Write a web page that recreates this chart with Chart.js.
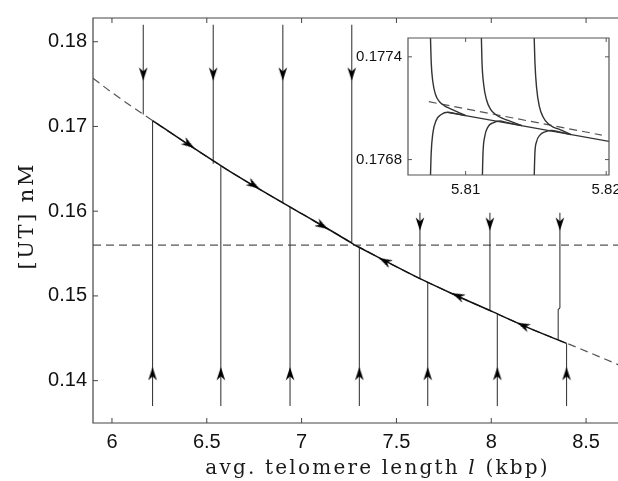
<!DOCTYPE html>
<html><head><meta charset="utf-8">
<script src="https://cdn.jsdelivr.net/npm/chart.js@4.4.1/dist/chart.umd.min.js"></script>
<style>
html,body{margin:0;padding:0;overflow:hidden;background:#fff;width:618px;height:481px;}
#wrap{position:relative;width:618px;height:481px;overflow:hidden;}
#main{position:absolute;left:0;top:0;}
#inset{position:absolute;left:340px;top:23px;}
</style></head><body>
<div id="wrap">
<canvas id="main" width="640" height="481"></canvas>
<canvas id="inset" width="300" height="185"></canvas>
</div>
<script>
// ---------- main panel data ----------
const xTicks = [6, 6.5, 7, 7.5, 8, 8.5];
const xTickLabels = ['6', '6.5', '7', '7.5', '8', '8.5'];
const yTicks = [0.14, 0.15, 0.16, 0.17, 0.18];
const yTickLabels = ['0.14', '0.15', '0.16', '0.17', '0.18'];
const xRange = [5.9, 8.7];
const yRange = [0.135, 0.1828];

// nullcline (dashed curve)
const nullX = [5.9, 6.0, 6.2, 6.4, 6.6, 6.8, 7.0, 7.2, 7.4, 7.6, 7.8, 8.0, 8.2, 8.4, 8.7];
const nullY = [0.1757, 0.1740, 0.1709, 0.1679, 0.1650, 0.1623, 0.1597, 0.1571, 0.1546, 0.1523, 0.1502, 0.1482, 0.1462, 0.1444, 0.1416];
// horizontal dashed level
const levelY = 0.156;

// solid trajectories along the nullcline
const solidAX = [6.214, 6.4, 6.6, 6.8, 7.0, 7.2, 7.28];
const solidAY = [0.1707, 0.1679, 0.1650, 0.1623, 0.1597, 0.1571, 0.1560];
const solidBX = [7.28, 7.4, 7.6, 7.8, 8.0, 8.2, 8.397];
const solidBY = [0.1560, 0.1546, 0.1523, 0.1502, 0.1482, 0.1462, 0.1444];

// trajectories coming down from above
const downX = [6.165, 6.534, 6.901, 7.2645, 7.624, 7.993, 8.362];
const downTop = [0.182, 0.182, 0.182, 0.182, 0.1598, 0.1598, 0.1598];
const downEnd = [0.1714, 0.1656, 0.1610, 0.1563, 0.1520, 0.1483, 0.14857];
const kinkX = [8.362, 8.353, 8.353];
const kinkY = [0.14857, 0.1484, 0.1449];
const downArrowY = [0.1762, 0.1762, 0.1762, 0.1762, 0.1585, 0.1585, 0.1585];

// trajectories coming up from below
const upX = [6.214, 6.574, 6.939, 7.3045, 7.665, 8.032, 8.397];
const upBottom = [0.137, 0.137, 0.137, 0.137, 0.137, 0.137, 0.137];
const upEnd = [0.1707, 0.1653, 0.1605, 0.1557, 0.1516, 0.1478, 0.1444];
const upArrowY = [0.1408, 0.1408, 0.1408, 0.1408, 0.1408, 0.1408, 0.1408];

// arrows along the curve
const curveArrowX = [6.404, 6.746, 7.108, 7.44, 7.825, 8.169];
const curveArrowY = [0.1679, 0.1631, 0.1583, 0.1541, 0.1500, 0.1465];
const curveArrowAngle = [123.7, 121.4, 120.4, 297.4, 294.3, 294.3];

// ---------- inset data ----------
const inXTicks = [5.81, 5.82];
const inXTickLabels = ['5.81', '5.82'];
const inYTicks = [0.1768, 0.1774];
const inYTickLabels = ['0.1768', '0.1774'];
const inXRange = [5.8059, 5.8202];
const inYRange = [0.17671, 0.17751];

const inSolidX = [5.80871, 5.8202];
const inSolidY = [0.177076, 0.176906];
const inDashX = [5.80738, 5.81969];
const inDashY = [0.177138, 0.176943];

const inUp1X = [5.8075, 5.80755, 5.807664, 5.807857, 5.808143, 5.8085, 5.808857, 5.809336, 5.8100];
const inUp1Y = [0.17751, 0.17737, 0.177256, 0.17718, 0.177138, 0.177114, 0.177099, 0.177082, 0.177057];
const inUp2X = [5.811121, 5.811164, 5.811286, 5.811479, 5.811764, 5.812143, 5.81255, 5.813021, 5.8140];
const inUp2Y = [0.17751, 0.17737, 0.177237, 0.177151, 0.177095, 0.177063, 0.177043, 0.177029, 0.176998];
const inUp3X = [5.814879, 5.814929, 5.81505, 5.815236, 5.815521, 5.815879, 5.816236, 5.816714, 5.8175];
const inUp3Y = [0.17751, 0.17737, 0.177218, 0.177114, 0.177047, 0.177009, 0.17699, 0.176975, 0.176946];

const inLo1X = [5.8075, 5.80755, 5.807664, 5.807907, 5.808264, 5.808736, 5.809214, 5.8100];
const inLo1Y = [0.176706, 0.176839, 0.176952, 0.177029, 0.177063, 0.177076, 0.17707, 0.177057];
const inLo2X = [5.811193, 5.811236, 5.811357, 5.811593, 5.81195, 5.812429, 5.812907, 5.8140];
const inLo2Y = [0.176706, 0.176839, 0.176934, 0.176991, 0.177015, 0.177025, 0.177017, 0.176998];
const inLo3X = [5.814879, 5.814929, 5.81505, 5.815286, 5.815643, 5.816121, 5.816593, 5.8175];
const inLo3Y = [0.176706, 0.176839, 0.176905, 0.176943, 0.176962, 0.17697, 0.176963, 0.176946];

// ---------- helpers ----------
function makeArrow() {
  const c = document.createElement('canvas');
  c.width = 10; c.height = 14;
  const g = c.getContext('2d');
  g.fillStyle = '#000';
  g.beginPath();
  g.moveTo(5, 0.3);
  g.lineTo(9.3, 13.6);
  g.lineTo(5, 9.6);
  g.lineTo(0.7, 13.6);
  g.closePath();
  g.fill();
  return c;
}
const arrowImg = makeArrow();

const pts = (xs, ys) => xs.map((x, i) => ({ x: x, y: ys[i] }));
const line = (xs, ys, opt) => Object.assign({
  data: pts(xs, ys), showLine: true, pointRadius: 0, borderWidth: 1.1,
  borderColor: '#3c3c3c', tension: 0, order: 2
}, opt || {});

function framePlugin(id, xt, yt, tickLen, color, sides, drawTitles) {
  return {
    id: id,
    afterDraw(chart) {
      const ctx = chart.ctx, a = chart.chartArea, sx = chart.scales.x, sy = chart.scales.y;
      ctx.save();
      ctx.strokeStyle = color;
      ctx.lineWidth = 1.2;
      ctx.beginPath();
      ctx.moveTo(a.left, a.top); ctx.lineTo(a.right, a.top);
      ctx.lineTo(a.right, a.bottom); ctx.lineTo(a.left, a.bottom); ctx.closePath();
      ctx.stroke();
      ctx.lineWidth = 1;
      ctx.beginPath();
      xt.forEach(v => {
        const p = sx.getPixelForValue(v);
        ctx.moveTo(p, a.bottom); ctx.lineTo(p, a.bottom - tickLen);
        ctx.moveTo(p, a.top); ctx.lineTo(p, a.top + tickLen);
      });
      yt.forEach(v => {
        const p = sy.getPixelForValue(v);
        ctx.moveTo(a.left, p); ctx.lineTo(a.left + tickLen, p);
        if (sides) { ctx.moveTo(a.right, p); ctx.lineTo(a.right - tickLen, p); }
      });
      ctx.stroke();
      if (drawTitles) drawTitles(ctx);
      ctx.restore();
    }
  };
}

function spacedText(ctx, parts, cx, y, spacing) {
  ctx.letterSpacing = spacing + 'px';
  ctx.textAlign = 'left';
  ctx.textBaseline = 'alphabetic';
  const w = [];
  let total = 0;
  parts.forEach(p => { ctx.font = p.font; const m = ctx.measureText(p.t).width; w.push(m); total += m; });
  total -= spacing;
  let x = cx - total / 2;
  parts.forEach((p, i) => { ctx.font = p.font; ctx.fillText(p.t, x, y); x += w[i]; });
}

function drawMainTitles(ctx) {
  ctx.fillStyle = '#1a1a1a';
  const f = '20px "DejaVu Serif", serif';
  const fi = 'italic 20px "DejaVu Serif", serif';
  spacedText(ctx, [{ t: 'avg. telomere length ', font: f }, { t: 'l', font: fi }, { t: ' (kbp)', font: f }], 376.5, 474, 2.2);
  ctx.save();
  ctx.translate(33, 217);
  ctx.rotate(-Math.PI / 2);
  spacedText(ctx, [{ t: '[UT] nM', font: '21px "DejaVu Serif", serif' }], 0, 0, 2.5);
  ctx.restore();
}

// ---------- main chart ----------
const mainSets = [];
mainSets.push({
  data: pts(curveArrowX, curveArrowY), showLine: false, pointStyle: arrowImg,
  pointRadius: 6, pointRotation: curveArrowAngle, order: 0
});
mainSets.push({
  data: pts(downX, downArrowY), showLine: false, pointStyle: arrowImg,
  pointRadius: 6, pointRotation: 180, order: 0
});
mainSets.push({
  data: pts(upX, upArrowY), showLine: false, pointStyle: arrowImg,
  pointRadius: 6, pointRotation: 0, order: 0
});
mainSets.push(line(solidAX, solidAY, { borderColor: '#111', borderWidth: 1.5, order: 1, tension: 0.3, cubicInterpolationMode: 'monotone' }));
mainSets.push(line(solidBX, solidBY, { borderColor: '#111', borderWidth: 1.5, order: 1, tension: 0.3, cubicInterpolationMode: 'monotone' }));
downX.forEach((x, i) => {
  mainSets.push(line([x, x], [downTop[i], downEnd[i]]));
  if (i === downX.length - 1) mainSets.push(line(kinkX, kinkY));
});
upX.forEach((x, i) => mainSets.push(line([x, x], [upBottom[i], upEnd[i]])));
mainSets.push(line(nullX, nullY, { borderColor: '#555', borderWidth: 1.2, borderDash: [8, 5], order: 3, tension: 0.3, cubicInterpolationMode: 'monotone' }));
mainSets.push(line(xRange, [levelY, levelY], { borderColor: '#555', borderWidth: 1.2, borderDash: [8, 5], order: 3 }));

const tickFont = { family: '"Liberation Sans", Arial, sans-serif', size: 20 };
new Chart(document.getElementById('main'), {
  type: 'scatter',
  data: { datasets: mainSets },
  options: {
    responsive: false, animation: false, devicePixelRatio: 1, events: [],
    layout: { padding: { top: 13, right: 16, left: 0, bottom: 0 } },
    plugins: { legend: { display: false }, tooltip: { enabled: false } },
    scales: {
      x: {
        type: 'linear', min: xRange[0], max: xRange[1],
        afterBuildTicks: s => { s.ticks = xTicks.map(v => ({ value: v })); },
        afterFit: s => { s.height = 58; },
        grid: { display: false, drawTicks: false }, border: { display: false },
        ticks: { padding: 7, color: '#111', font: tickFont, maxRotation: 0, autoSkip: false,
                 callback: (v, i) => xTickLabels[i] }
      },
      y: {
        type: 'linear', min: yRange[0], max: yRange[1],
        afterBuildTicks: s => { s.ticks = yTicks.map(v => ({ value: v })); },
        afterFit: s => { s.width = 93; },
        grid: { display: false, drawTicks: false }, border: { display: false },
        ticks: { padding: 6, color: '#111', font: tickFont, autoSkip: false,
                 callback: (v, i) => yTickLabels[i] }
      }
    }
  },
  plugins: [framePlugin('frameMain', xTicks, yTicks, 5, '#444', true, drawMainTitles)]
});

// ---------- inset chart ----------
const inSets = [];
const inCurve = (xs, ys) => line(xs, ys, { borderColor: '#333', borderWidth: 1.4, tension: 0.3, cubicInterpolationMode: 'monotone', order: 1 });
inSets.push(inCurve(inUp1X, inUp1Y));
inSets.push(inCurve(inUp2X, inUp2Y));
inSets.push(inCurve(inUp3X, inUp3Y));
inSets.push(inCurve(inLo1X, inLo1Y));
inSets.push(inCurve(inLo2X, inLo2Y));
inSets.push(inCurve(inLo3X, inLo3Y));
inSets.push(line(inSolidX, inSolidY, { borderColor: '#333', borderWidth: 1.4, order: 1 }));
inSets.push(line(inDashX, inDashY, { borderColor: '#555', borderWidth: 1.2, borderDash: [8, 5], order: 2 }));

const inFont = { family: '"Liberation Sans", Arial, sans-serif', size: 15 };
new Chart(document.getElementById('inset'), {
  type: 'scatter',
  data: { datasets: inSets },
  options: {
    responsive: false, animation: false, devicePixelRatio: 1, events: [],
    layout: { padding: { top: 10, right: 31, left: 0, bottom: 0 } },
    plugins: { legend: { display: false }, tooltip: { enabled: false } },
    scales: {
      x: {
        type: 'linear', min: inXRange[0], max: inXRange[1],
        afterBuildTicks: s => { s.ticks = inXTicks.map(v => ({ value: v })); },
        afterFit: s => { s.height = 33; },
        grid: { display: false, drawTicks: false }, border: { display: false },
        ticks: { padding: 6, color: '#111', font: inFont, maxRotation: 0, autoSkip: false,
                 callback: (v, i) => inXTickLabels[i] }
      },
      y: {
        type: 'linear', min: inYRange[0], max: inYRange[1],
        afterBuildTicks: s => { s.ticks = inYTicks.map(v => ({ value: v })); },
        afterFit: s => { s.width = 68; },
        grid: { display: false, drawTicks: false }, border: { display: false },
        ticks: { padding: 6, color: '#111', font: inFont, autoSkip: false,
                 callback: (v, i) => inYTickLabels[i] }
      }
    }
  },
  plugins: [framePlugin('frameInset', inXTicks, inYTicks, 4, '#555', true, null)]
});
</script>
</body></html>
